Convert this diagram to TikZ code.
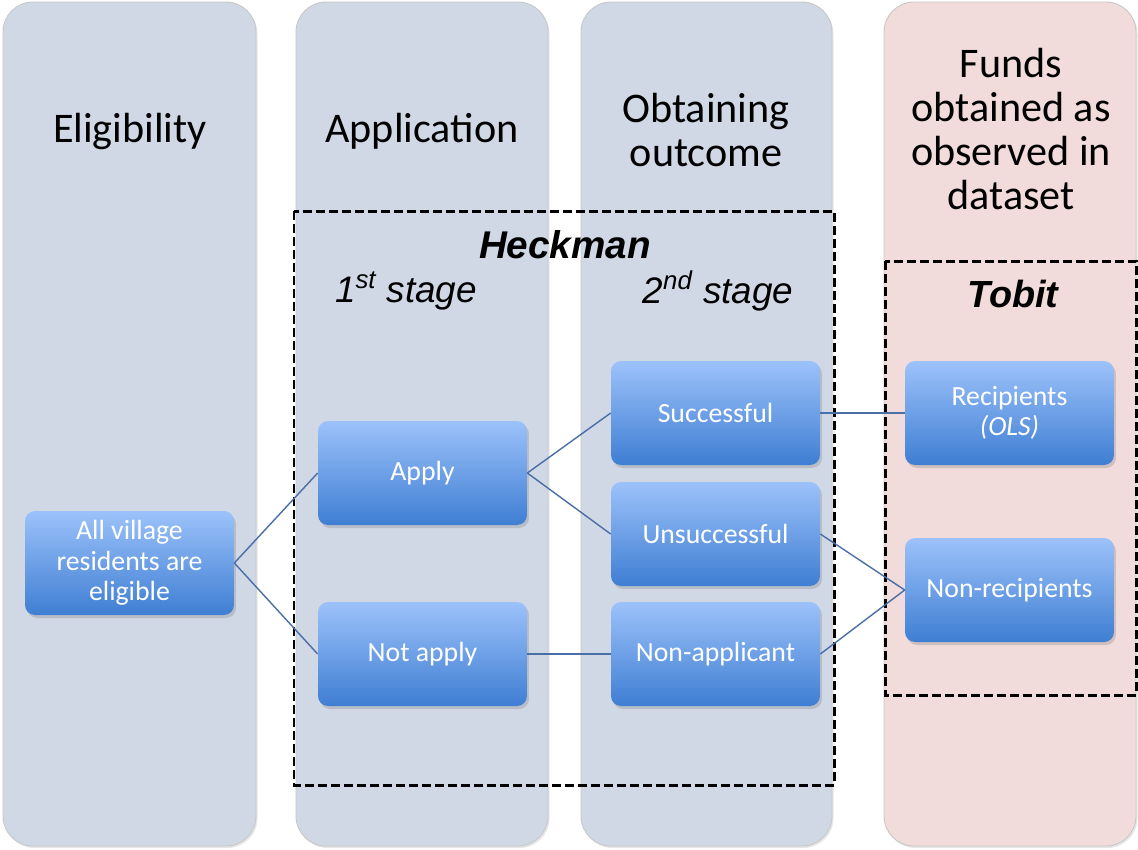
\documentclass[tikz,border=0pt]{standalone}
\usepackage{fontspec}
\setmainfont{Carlito}
\newfontfamily\arialfont{Liberation Sans}
\usetikzlibrary{shadows}
\usepackage{xcolor}

\definecolor{colfill}{HTML}{D0D8E6}
\definecolor{fundfill}{HTML}{F2DCDB}
\definecolor{boxtop}{HTML}{9CC2FA}
\definecolor{boxbot}{HTML}{3F7ED3}
\definecolor{linkblue}{HTML}{4A6EA6}

\tikzset{
  column/.style={fill=#1, draw=black!22, line width=0.5pt, rounded corners=0.6cm,
    drop shadow={opacity=0.2, shadow xshift=0.03cm, shadow yshift=-0.04cm}},
  coltitle/.style={align=center, font=\fontsize{24}{25.2}\selectfont},
  stagebox/.style={rounded corners=0.2cm, minimum width=4.18cm, minimum height=2.08cm,
    top color=boxtop, bottom color=boxbot, text=white, align=center,
    font=\fontsize{15.8}{17.3}\selectfont,
    drop shadow={opacity=0.3, shadow xshift=0.04cm, shadow yshift=-0.06cm}},
  modelbox/.style={draw=black, line width=1.7pt, dash pattern=on 5pt off 2.4pt},
  modeltitle/.style={font=\arialfont\bfseries\itshape\fontsize{22}{26}\selectfont},
  stagetitle/.style={font=\arialfont\itshape\fontsize{21}{24}\selectfont},
  link/.style={draw=linkblue, line width=0.8pt}
}

\begin{document}
\begin{tikzpicture}[x=0.02cm, y=-0.02cm]
  \useasboundingbox (0,0) rectangle (1138,849);

  % Columns
  \path[column=colfill] (3,2) rectangle (256,846);
  \path[column=colfill] (296,2) rectangle (548,846);
  \path[column=colfill] (581,2) rectangle (832,846);
  \path[column=fundfill] (884,2) rectangle (1136,846);

  \node[coltitle] (elig) at (130,131) {Eligibility};
  \node[coltitle] (appl) at (422,131) {Application};
  \node[coltitle] (obtain) at (706,130) {Obtaining\\outcome};
  \node[coltitle] (funds) at (1011,129) {Funds\\obtained as\\observed in\\dataset};

  % Model boxes
  \draw[modelbox] (294,211) rectangle (834,785);
  \draw[modelbox] (885,261) rectangle (1136,695);
  \node[modeltitle] (heckman) at (565,245) {Heckman};
  \node[stagetitle] (first) at (406,291) {1\textsuperscript{st} stage};
  \node[stagetitle] (second) at (718,291) {2\textsuperscript{nd} stage};
  \node[modeltitle, font=\arialfont\bfseries\itshape\fontsize{21.5}{26}\selectfont] (tobit) at (1013,294) {Tobit};

  % Stage boxes
  \node[stagebox] (all) at (129.5,563) {All village\\residents are\\eligible};
  \node[stagebox] (apply) at (422.5,473) {Apply};
  \node[stagebox] (notapply) at (422.5,654) {Not apply};
  \node[stagebox] (success) at (715.5,413) {Successful};
  \node[stagebox] (unsuccess) at (715.5,534) {Unsuccessful};
  \node[stagebox] (nonappl) at (715.5,654) {Non-applicant};
  \node[stagebox] (recip) at (1009.5,413) {Recipients\\\textit{(OLS)}};
  \node[stagebox] (nonrecip) at (1009.5,590) {Non-recipients};

  % Links
  \draw[link] (all.east) -- (apply.west);
  \draw[link] (all.east) -- (notapply.west);
  \draw[link] (apply.east) -- (success.west);
  \draw[link] (apply.east) -- (unsuccess.west);
  \draw[link] (notapply.east) -- (nonappl.west);
  \draw[link] (success.east) -- (recip.west);
  \draw[link] (unsuccess.east) -- (nonrecip.west);
  \draw[link] (nonappl.east) -- (nonrecip.west);
\end{tikzpicture}
\end{document}
